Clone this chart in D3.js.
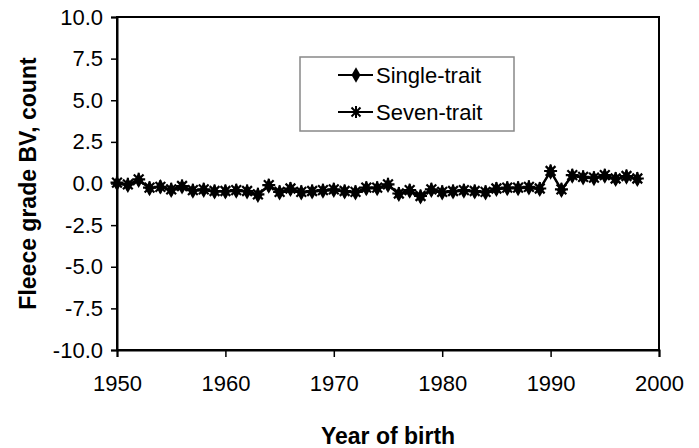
<!DOCTYPE html>
<html>
<head>
<meta charset="utf-8">
<script src="https://cdn.jsdelivr.net/npm/d3@7"></script>
<style>
  body { margin: 0; background: #fff; }
  svg text { font-family: "Liberation Sans", Arial, sans-serif; }
</style>
</head>
<body>
<svg id="chart" width="699" height="448"></svg>
<script>
const width = 699;
const height = 448;

// data, years 1950..1998
const years = d3.range(1950, 1999);
const singleTrait = [0.0, -0.1, 0.2, -0.3, -0.2, -0.4, -0.2, -0.45, -0.4, -0.5,
  -0.5, -0.45, -0.5, -0.7, -0.15, -0.55, -0.35, -0.55, -0.5, -0.45,
  -0.4, -0.5, -0.55, -0.3, -0.3, -0.1, -0.65, -0.45, -0.8, -0.4,
  -0.55, -0.5, -0.45, -0.5, -0.55, -0.35, -0.3, -0.3, -0.25, -0.35,
  0.7, -0.4, 0.45, 0.35, 0.3, 0.45, 0.25, 0.4, 0.25];
const sevenTrait = [0.05, -0.05, 0.25, -0.25, -0.2, -0.35, -0.15, -0.4, -0.35, -0.45,
  -0.45, -0.4, -0.45, -0.65, -0.1, -0.5, -0.3, -0.5, -0.45, -0.4,
  -0.35, -0.45, -0.5, -0.25, -0.25, -0.05, -0.6, -0.4, -0.75, -0.35,
  -0.5, -0.45, -0.4, -0.45, -0.5, -0.3, -0.25, -0.25, -0.2, -0.3,
  0.75, -0.35, 0.5, 0.4, 0.35, 0.5, 0.3, 0.45, 0.3];
const yTicks = [-10, -7.5, -5, -2.5, 0, 2.5, 5, 7.5, 10];
const xTicks = [1950, 1960, 1970, 1980, 1990, 2000];
const seriesNames = ["Single-trait", "Seven-trait"];

const margin = {left: 117, right: 40, top: 17, bottom: 98};
const svg = d3.select("#chart");

const x = d3.scaleLinear().domain([1950, 2000]).range([margin.left, width - margin.right]);
const y = d3.scaleLinear().domain([-10, 10]).range([height - margin.bottom, margin.top]);

// plot area frame
svg.append("rect")
    .attr("x", x(1950)).attr("y", y(10))
    .attr("width", x(2000) - x(1950)).attr("height", y(-10) - y(10))
    .attr("fill", "none").attr("stroke", "#000").attr("stroke-width", 2);

// axes
const yAxis = svg.append("g")
    .attr("transform", `translate(${x(1950)},0)`)
    .call(d3.axisLeft(y).tickValues(yTicks).tickFormat(d => d.toFixed(1)).tickSize(6).tickPadding(8));
const xAxis = svg.append("g")
    .attr("transform", `translate(0,${y(-10)})`)
    .call(d3.axisBottom(x).tickValues(xTicks).tickFormat(d => String(d)).tickSize(7).tickPadding(18));

[yAxis, xAxis].forEach(a => {
    a.select(".domain").attr("stroke-width", 2);
    a.selectAll(".tick line").attr("stroke-width", 1.5);
    a.selectAll("text")
        .attr("font-size", "22px")
        .attr("fill", "#000")
        .style("font-family", "'Liberation Sans', Arial, sans-serif");
});

// axis titles
svg.append("text")
    .attr("x", (x(1950) + x(2000)) / 2)
    .attr("y", 444)
    .attr("text-anchor", "middle")
    .attr("font-size", "23px")
    .attr("font-weight", "bold")
    .text("Year of birth");

svg.append("text")
    .attr("transform", `translate(36,${y(0)}) rotate(-90)`)
    .attr("text-anchor", "middle")
    .attr("font-size", "23px")
    .attr("font-weight", "bold")
    .text("Fleece grade BV, count");

// markers
const diamond = d3.symbol().type(d3.symbolDiamond).size(70);
function star(s) {
    return `M0,${-s}L0,${s}M${-s},0L${s},0M${-s*0.75},${-s*0.75}L${s*0.75},${s*0.75}M${-s*0.75},${s*0.75}L${s*0.75},${-s*0.75}`;
}

const line = d3.line().x((d, i) => x(years[i])).y(d => y(d));

svg.append("path")
    .datum(singleTrait)
    .attr("d", line)
    .attr("fill", "none").attr("stroke", "#000").attr("stroke-width", 2);

svg.append("path")
    .datum(sevenTrait)
    .attr("d", line)
    .attr("fill", "none").attr("stroke", "#000").attr("stroke-width", 2);

svg.selectAll(".diamond")
    .data(singleTrait)
    .enter()
    .append("path")
    .attr("class", "diamond")
    .attr("transform", (d, i) => `translate(${x(years[i])},${y(d)})`)
    .attr("d", diamond)
    .attr("fill", "#000");

svg.selectAll(".star")
    .data(sevenTrait)
    .enter()
    .append("path")
    .attr("class", "star")
    .attr("transform", (d, i) => `translate(${x(years[i])},${y(d)})`)
    .attr("d", star(6.5))
    .attr("fill", "none").attr("stroke", "#000").attr("stroke-width", 2.2);

// legend
const legend = svg.append("g").attr("transform", "translate(300,57)");
legend.append("rect")
    .attr("width", 214).attr("height", 74)
    .attr("fill", "#fff").attr("stroke", "#888").attr("stroke-width", 1.5);

seriesNames.forEach((name, i) => {
    const ly = 18 + i * 37;
    legend.append("line")
        .attr("x1", 38).attr("x2", 73).attr("y1", ly).attr("y2", ly)
        .attr("stroke", "#000").attr("stroke-width", 2);
    if (i === 0) {
        legend.append("path")
            .attr("transform", `translate(56,${ly})`)
            .attr("d", diamond).attr("fill", "#000");
    } else {
        legend.append("path")
            .attr("transform", `translate(56,${ly})`)
            .attr("d", star(6))
            .attr("fill", "none").attr("stroke", "#000").attr("stroke-width", 2);
    }
    legend.append("text")
        .attr("x", 76).attr("y", ly + 8)
        .attr("font-size", "22px")
        .text(name);
});
</script>
</body>
</html>
